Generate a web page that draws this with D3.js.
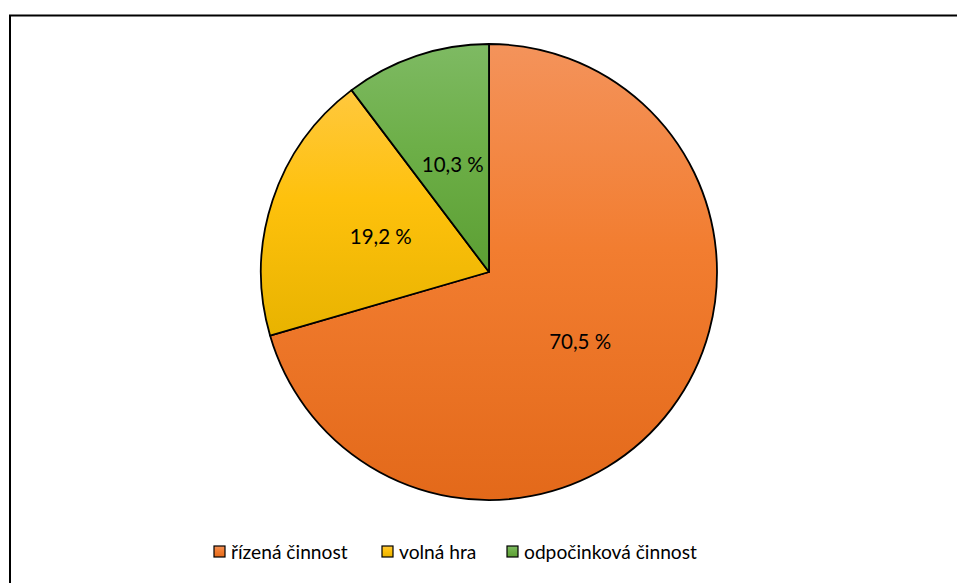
<!DOCTYPE html>
<html>
<head>
<meta charset="utf-8">
<script src="https://cdn.jsdelivr.net/npm/d3@7"></script>
<style>
  body { margin: 0; background: #fff; }
  text { font-family: Lato, "Open Sans", sans-serif; fill: #000; }
</style>
</head>
<body>
<div id="chart"></div>
<script>
// pie data
var categories = ['řízená činnost', 'volná hra', 'odpočinková činnost'];
var values = [70.5, 19.2, 10.3];
var labels = ['70,5 %', '19,2 %', '10,3 %'];
var colorsTop = ['#F4935B', '#FFC83E', '#7EBA63'];
var colorsMid = ['#F27D30', '#FEC10C', '#6DAF48'];
var colorsBottom = ['#E3691A', '#E8B300', '#5C9F33'];

var width = 957, height = 583;
var cx = 489, cy = 272, radius = 228;

var svg = d3.select('#chart').append('svg')
  .attr('width', width)
  .attr('height', height);

// chart area border
svg.append('rect')
  .attr('x', 10)
  .attr('y', 15.5)
  .attr('width', 980)
  .attr('height', 620)
  .attr('fill', '#fff')
  .attr('stroke', '#000')
  .attr('stroke-width', 2);

var defs = svg.append('defs');
categories.forEach(function(c, i) {
  var g = defs.append('linearGradient')
    .attr('id', 'grad' + i)
    .attr('x1', 0).attr('y1', 0)
    .attr('x2', 0).attr('y2', 1);
  g.append('stop').attr('offset', '0%').attr('stop-color', colorsTop[i]);
  g.append('stop').attr('offset', '45%').attr('stop-color', colorsMid[i]);
  g.append('stop').attr('offset', '100%').attr('stop-color', colorsBottom[i]);
});

var pie = d3.pie().sort(null).value(function(d) { return d; });
var arcs = pie(values);

var arc = d3.arc().innerRadius(0).outerRadius(radius);
var labelArc = d3.arc().innerRadius(radius * 0.5).outerRadius(radius * 0.5);

var g = svg.append('g').attr('transform', 'translate(' + cx + ',' + cy + ')');

g.selectAll('path.slice')
  .data(arcs)
  .enter().append('path')
    .attr('class', 'slice')
    .attr('d', arc)
    .attr('fill', function(d, i) { return 'url(#grad' + i + ')'; })
    .attr('stroke', '#000')
    .attr('stroke-width', 1.8)
    .attr('stroke-linejoin', 'round');

g.selectAll('text.lbl')
  .data(arcs)
  .enter().append('text')
    .attr('class', 'lbl')
    .attr('transform', function(d) { return 'translate(' + labelArc.centroid(d) + ')'; })
    .attr('text-anchor', 'middle')
    .attr('dy', '0.4em')
    .attr('font-size', 20.5)
    .text(function(d, i) { return labels[i]; });

// LEGEND
var legendX = [214, 382, 507];
var legend = svg.append('g').attr('class', 'legend');
var items = legend.selectAll('g')
  .data(categories)
  .enter().append('g')
    .attr('transform', function(d, i) { return 'translate(' + legendX[i] + ',546)'; });
items.append('rect')
  .attr('width', 11)
  .attr('height', 11)
  .attr('fill', function(d, i) { return 'url(#grad' + i + ')'; })
  .attr('stroke', '#000')
  .attr('stroke-width', 1.2);
items.append('text')
  .attr('x', 17)
  .attr('y', 6)
  .attr('dy', '0.35em')
  .attr('font-size', 19.2)
  .text(function(d) { return d; });
</script>
</body>
</html>
